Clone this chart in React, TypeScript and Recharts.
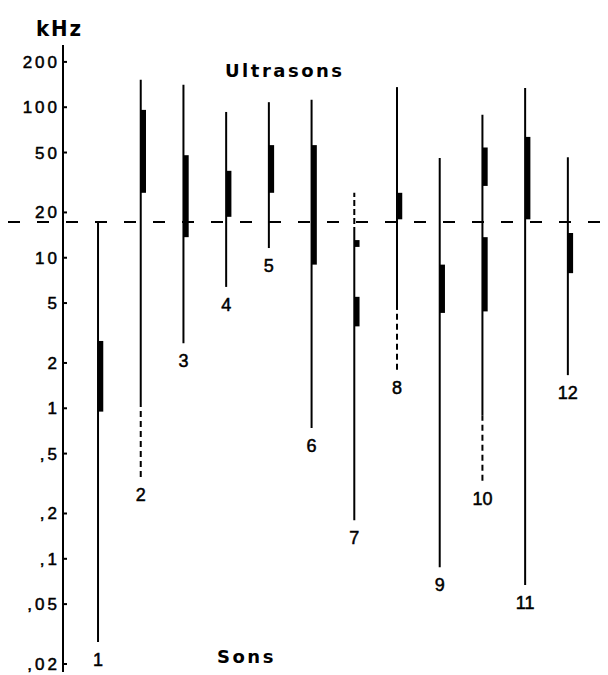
import React from 'react';
import { ComposedChart, XAxis, YAxis, Scatter, ReferenceLine } from 'recharts';

// species numbers, left to right
const SPECIES = ['1', '2', '3', '4', '5', '6', '7', '8', '9', '10', '11', '12'];

// full audible range of each species (kHz), solid stem
const STEM_LOW = [0.028, 1.02, 2.7, 6.4, 11.6, 0.74, 0.18, 4.5, 0.088, 0.9, 0.067, 1.66];
const STEM_HIGH = [17.3, 152, 141, 93, 108, 112, 14.6, 136, 46, 89, 134, 46.5];

// uncertain parts of the range, dashed
const DASHED_PARTS = [
  { species: 2, low: 0.35, high: 1.02 },
  { species: 7, low: 14.6, high: 27 },
  { species: 8, low: 1.8, high: 4.5 },
  { species: 10, low: 0.33, high: 0.9 },
];

// main (most sensitive) bands, thick
const MAIN_BANDS = [
  { species: 1, low: 0.95, high: 2.8 },
  { species: 2, low: 27, high: 96 },
  { species: 3, low: 13.7, high: 48 },
  { species: 4, low: 18.7, high: 37.8 },
  { species: 5, low: 27, high: 56 },
  { species: 6, low: 9, high: 56 },
  { species: 7, low: 3.5, high: 5.5 },
  { species: 7, low: 11.8, high: 13.1 },
  { species: 8, low: 18, high: 27 },
  { species: 9, low: 4.3, high: 9 },
  { species: 10, low: 30, high: 54 },
  { species: 10, low: 4.4, high: 13.7 },
  { species: 11, low: 18, high: 63.5 },
  { species: 12, low: 7.9, high: 14.6 },
];

// limit between sounds and ultrasounds
const THRESHOLD_KHZ = 17.3;

const TICK_VALUES = [0.02, 0.05, 0.1, 0.2, 0.5, 1, 2, 5, 10, 20, 50, 100, 200];
const TICK_LABELS = [',02', ',05', ',1', ',2', ',5', '1', '2', '5', '10', '20', '50', '100', '200'];

const INK = '#000';
const BAND_SHIFT = 2.5;
const plainFont = "'Liberation Sans', Arial, sans-serif";
const boldFont = "'DejaVu Sans', sans-serif";

// where each number label sits: bottom of the lowest part drawn
const labelData = SPECIES.map((name, i) => {
  const lows = [STEM_LOW[i], ...DASHED_PARTS.filter(d => d.species === i + 1).map(d => d.low)];
  return { x: i + 1, y: Math.min(...lows), name };
});

const YTick = (props: any) => {
  const { x, y, payload } = props;
  const idx = TICK_VALUES.indexOf(payload.value);
  return (
    <g>
      <line x1={x} x2={x + 4} y1={y} y2={y} stroke={INK} strokeWidth={2} />
      <text
        x={x - 3}
        y={y}
        dy={6}
        textAnchor="end"
        fontFamily={plainFont}
        fontSize={17}
        letterSpacing={3}
        fill={INK}
        stroke={INK}
        strokeWidth={0.5}
      >
        {idx >= 0 ? TICK_LABELS[idx] : payload.value}
      </text>
    </g>
  );
};

const NumberLabel = (props: any) => {
  const { cx, cy, payload } = props;
  return (
    <text
      x={cx}
      y={cy + 24}
      textAnchor="middle"
      fontFamily={plainFont}
      fontSize={18}
      fill={INK}
      stroke={INK}
      strokeWidth={0.5}
    >
      {payload.name}
    </text>
  );
};

const thickShape = (p: any) => (
  <line x1={p.x1 + BAND_SHIFT} y1={p.y1} x2={p.x2 + BAND_SHIFT} y2={p.y2} stroke={INK} strokeWidth={5.5} />
);

const thresholdShape = (p: any) => (
  <line x1={0} y1={p.y1} x2={p.x2} y2={p.y2} stroke={INK} strokeWidth={2} strokeDasharray="12 17" />
);

export default function App() {
  return (
    <ComposedChart width={600} height={667} data={labelData} margin={{ top: 37, right: 0, bottom: 3, left: 0 }}>
      <XAxis dataKey="x" type="number" domain={[0.18, 12.94]} allowDataOverflow hide />
      <YAxis
        dataKey="y"
        type="number"
        scale="log"
        domain={[0.0177, 259]}
        allowDataOverflow
        ticks={TICK_VALUES}
        interval={0}
        tickSize={0}
        tickMargin={0}
        tickLine={false}
        axisLine={{ stroke: INK, strokeWidth: 2 }}
        tick={<YTick />}
        width={55}
      />

      <ReferenceLine y={THRESHOLD_KHZ} shape={thresholdShape} />

      {SPECIES.map((s, i) => (
        <ReferenceLine
          key={'stem' + s}
          segment={[{ x: i + 1, y: STEM_LOW[i] }, { x: i + 1, y: STEM_HIGH[i] }]}
          stroke={INK}
          strokeWidth={2}
        />
      ))}
      {DASHED_PARTS.map((d, i) => (
        <ReferenceLine
          key={'dash' + i}
          segment={[{ x: d.species, y: d.low }, { x: d.species, y: d.high }]}
          stroke={INK}
          strokeWidth={2}
          strokeDasharray={d.species === 7 ? '6 3' : '6 4'}
        />
      ))}
      {MAIN_BANDS.map((b, i) => (
        <ReferenceLine
          key={'band' + i}
          segment={[{ x: b.species, y: b.low }, { x: b.species, y: b.high }]}
          shape={thickShape}
        />
      ))}

      <Scatter dataKey="y" shape={NumberLabel} isAnimationActive={false} />

      <text x={51.5} y={28} textAnchor="middle" fontFamily="'Liberation Sans Narrow', 'DejaVu Sans Condensed', sans-serif" fontWeight="bold" fontSize={22} letterSpacing={2} fill={INK}>
        kHz
      </text>
      <text x={217} y={69} fontFamily={boldFont} fontWeight="bold" fontSize={18} letterSpacing={2.5} fill={INK}>
        Ultrasons
      </text>
      <text x={209} y={655} fontFamily={boldFont} fontWeight="bold" fontSize={18} letterSpacing={2.5} fill={INK}>
        Sons
      </text>
    </ComposedChart>
  );
}
